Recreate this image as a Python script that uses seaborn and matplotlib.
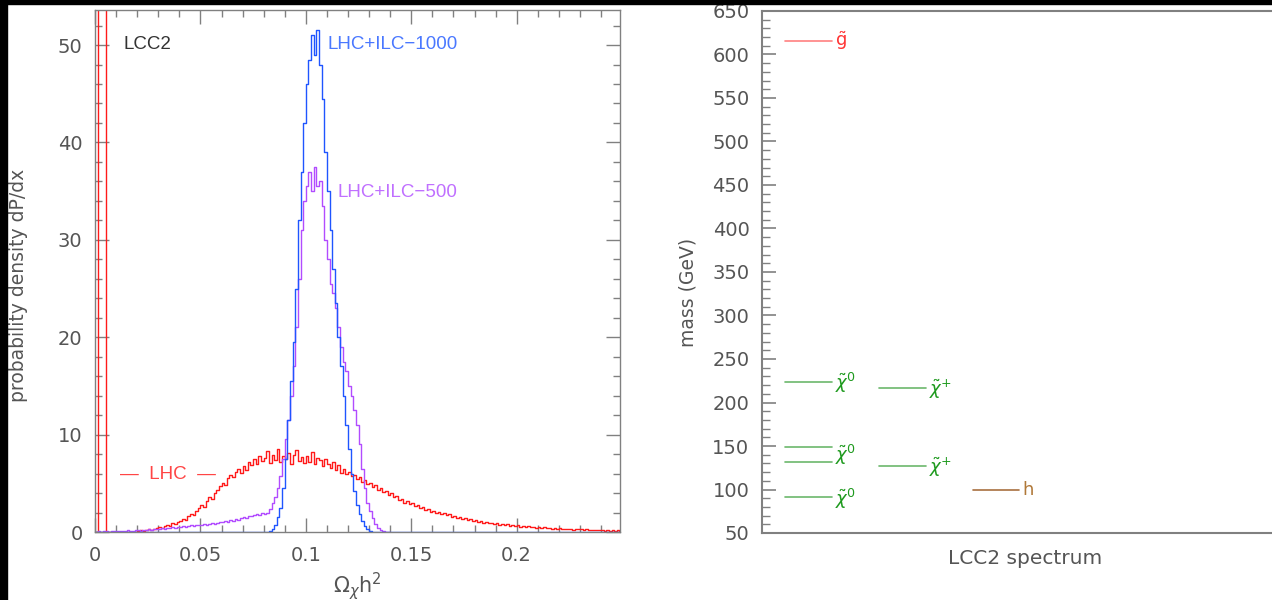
import numpy as np
import pandas as pd
import matplotlib
matplotlib.use("Agg")
import matplotlib.pyplot as plt
import seaborn as sns
from matplotlib.patches import Rectangle
from matplotlib.ticker import MultipleLocator

# ---------------- data: left panel (histograms, bin width 0.00125) ----------------
BIN = 0.00125

lhc_start = 0.0
lhc_vals = [
    0, 400, 400, 400, 0, 0, 0, 0,
    0, 0, 0, 0, 0.05, 0, 0.05, 0.05,
    0.1, 0.2, 0.1, 0.2, 0.3, 0.2, 0.3, 0.4,
    0.5, 0.4, 0.6, 0.7, 0.6, 0.9, 0.8, 1.0,
    1.1, 1.3, 1.2, 1.6, 1.8, 1.7, 2.2, 2.5,
    2.8, 2.6, 3.2, 3.6, 3.4, 4.0, 4.3, 4.7,
    5.0, 4.8, 5.5, 5.9, 5.6, 6.2, 6.5, 6.1,
    6.8, 6.4, 7.2, 6.9, 7.5, 7.0, 7.8, 7.3,
    7.6, 8.3, 7.1, 7.9, 7.4, 8.5, 7.2, 7.8,
    7.5, 8.1, 7.0, 7.9, 8.4, 7.3, 7.7, 7.1,
    7.8, 7.2, 8.2, 7.0, 7.6, 7.4, 6.8, 7.5,
    7.0, 6.6, 7.2, 6.4, 6.9, 6.1, 6.5, 6.0,
    6.2, 5.7, 5.9, 5.4, 5.6, 5.1, 5.3, 4.9,
    5.0, 4.6, 4.8, 4.3, 4.5, 4.1, 4.2, 3.8,
    4.0, 3.6, 3.7, 3.3, 3.4, 3.0, 3.2, 2.9,
    3.0, 2.7, 2.8, 2.5, 2.6, 2.3, 2.4, 2.1,
    2.2, 2.0, 2.1, 1.8, 1.9, 1.7, 1.8, 1.5,
    1.6, 1.4, 1.5, 1.3, 1.4, 1.2, 1.3, 1.1,
    1.2, 1.0, 1.1, 0.9, 1.0, 0.9, 0.95, 0.8,
    0.9, 0.75, 0.8, 0.7, 0.8, 0.65, 0.7, 0.6,
    0.7, 0.55, 0.6, 0.5, 0.6, 0.5, 0.55, 0.45,
    0.5, 0.4, 0.5, 0.4, 0.45, 0.35, 0.4, 0.35,
    0.4, 0.3, 0.35, 0.3, 0.35, 0.25, 0.3, 0.3,
    0.3, 0.25, 0.3, 0.2, 0.25, 0.2, 0.25, 0.2,
    0.25, 0.15, 0.2, 0.15, 0.2, 0.15, 0.2, 0.15,
]

ilc500_start = 0.0
ilc500_vals = [
    0.05, 0.1, 0.05, 0.1, 0.1, 0.05, 0.1, 0.1,
    0.1, 0.15, 0.1, 0.15, 0.2, 0.1, 0.15, 0.2,
    0.2, 0.15, 0.25, 0.2, 0.3, 0.25, 0.3, 0.35,
    0.3, 0.4, 0.35, 0.45, 0.4, 0.5, 0.45, 0.55,
    0.5, 0.6, 0.55, 0.6, 0.7, 0.6, 0.7, 0.75,
    0.7, 0.8, 0.75, 0.85, 0.9, 0.8, 0.95, 1.0,
    1.0, 1.1, 1.0, 1.2, 1.15, 1.3, 1.25, 1.4,
    1.5, 1.4, 1.6, 1.6, 1.7, 1.8, 1.7, 1.9,
    1.8, 2.0, 2.4, 3.0, 3.6, 4.5, 5.8, 7.5,
    9.5, 11.5, 14.0, 17.0, 21.0, 26.0, 31.0, 34.0,
    35.5, 37.0, 35.0, 37.5, 35.5, 36.0, 33.5, 30.0,
    28.0, 25.5, 24.5, 23.0, 21.0, 19.0, 17.5, 16.5,
    15.0, 14.0, 12.5, 11.0, 9.0, 6.5, 4.5, 3.0,
    2.2, 1.4, 0.8, 0.4, 0.2, 0.1, 0.05, 0.0,
]

ilc1000_start = 0.08
ilc1000_vals = [
    0, 0, 0.1, 0.3, 0.7, 1.5, 2.5, 4.5,
    7.5, 11.5, 15.5, 19.5, 25.0, 32.0, 37.0, 42.0,
    46.0, 48.5, 51.0, 49.0, 51.5, 48.0, 44.5, 39.0,
    35.0, 31.0, 27.0, 23.5, 20.0, 17.0, 14.0, 11.0,
    8.5, 6.0, 4.2, 2.8, 1.8, 1.1, 0.6, 0.3,
    0.15, 0.05, 0, 0, 0, 0, 0, 0,
]

X_MAX = 0.249
Y_MAX = 53.6

# ---------------- data: right panel (mass spectrum, GeV) ----------------
level_mass = [616, 224, 149, 132, 91, 217, 127, 99]
level_col = [0, 0, 0, 0, 0, 1, 1, 2]
level_kind = ["gluino", "neutralino", "neutralino", "neutralino", "neutralino",
              "chargino", "chargino", "higgs"]

label_text = [r"$\tilde{\mathrm{g}}$", r"$\tilde{\chi}^0$", r"$\tilde{\chi}^0$", r"$\tilde{\chi}^0$",
              r"$\tilde{\chi}^{+}$", r"$\tilde{\chi}^{+}$", "h"]
label_col = [0, 0, 0, 0, 1, 1, 2]
label_mass = [616, 222, 140, 89, 215, 126, 99]
label_kind = ["gluino", "neutralino", "neutralino", "neutralino", "chargino", "chargino", "higgs"]

line_colors = {"gluino": "#ff8080", "neutralino": "#6cb86c", "chargino": "#6cb86c", "higgs": "#a87040"}
text_colors = {"gluino": "#ff3535", "neutralino": "#1f9a1f", "chargino": "#1f9a1f", "higgs": "#b07838"}

# ---------------- style ----------------
sns.set_style("white")
plt.rcParams["font.family"] = ["DejaVu Sans"]
plt.rcParams["mathtext.fontset"] = "dejavusans"
ANNOT_FONT = ["Liberation Sans", "DejaVu Sans"]

GRAY = "#555555"
SPINE = "#808080"

fig = plt.figure(figsize=(12.72, 6.0), dpi=100)
fig.patch.set_facecolor("white")

ax1 = fig.add_axes([95 / 1272, 1 - 532 / 600, 525 / 1272, 522 / 600])
ax2 = fig.add_axes([762 / 1272, 1 - 533 / 600, 510 / 1272, 522 / 600])


def draw_hist(ax, start, vals, color, lw, full=False):
    vals = np.asarray(vals, dtype=float)
    if full:
        n_total = int(round(0.25 / BIN))
        i0 = int(round(start / BIN))
        padded = np.zeros(n_total)
        padded[i0:i0 + len(vals)] = vals
        vals = padded
        start = 0.0
    edges = start + BIN * np.arange(len(vals) + 1)
    centers = 0.5 * (edges[:-1] + edges[1:])
    df = pd.DataFrame({"x": centers, "w": vals})
    sns.histplot(data=df, x="x", weights="w", bins=edges.tolist(), element="step",
                 fill=False, color=color, linewidth=lw, ax=ax)


draw_hist(ax1, lhc_start, lhc_vals, "#ff1a1a", 1.0)
draw_hist(ax1, ilc500_start, ilc500_vals, "#b24cff", 1.0)
draw_hist(ax1, ilc1000_start, ilc1000_vals, "#1f55ff", 1.0, full=True)

ax1.set_xlim(0, X_MAX)
ax1.set_ylim(0, Y_MAX)
ax1.xaxis.set_major_locator(MultipleLocator(0.05))
ax1.xaxis.set_minor_locator(MultipleLocator(0.01))
ax1.yaxis.set_major_locator(MultipleLocator(10))
ax1.yaxis.set_minor_locator(MultipleLocator(2))
ax1.set_xticks([0, 0.05, 0.1, 0.15, 0.2])
ax1.set_xticklabels(["0", "0.05", "0.1", "0.15", "0.2"])
ax1.tick_params(which="both", direction="in", top=True, right=True, bottom=True, left=True,
                color=SPINE, labelcolor=GRAY, labelsize=14)
ax1.tick_params(which="major", length=10, width=1.0)
ax1.tick_params(which="minor", length=5, width=1.0)
ax1.tick_params(axis="x", which="major", pad=10)
ax1.tick_params(axis="y", which="major", pad=9)
for s in ax1.spines.values():
    s.set_color(SPINE)
    s.set_linewidth(1.0)
ax1.set_xlabel(r"$\Omega_{\chi}\mathrm{h}^{2}$", fontsize=15, color=GRAY)
ax1.xaxis.set_label_coords(0.5, -0.073)
ax1.set_ylabel("probability density dP/dx", fontsize=13.5, color=GRAY)
ax1.yaxis.set_label_coords(-0.127, 0.473)

ax1.text(0.0133, 50.05, "LCC2", fontsize=13.5, color="#333333", va="center", ha="left",
         family=ANNOT_FONT)
ax1.text(0.1104, 50.05, "LHC+ILC\u22121000", fontsize=13.5, color="#4a78ff", va="center",
         ha="left", family=ANNOT_FONT)
ax1.text(0.1152, 34.9, "LHC+ILC\u2212500", fontsize=13.5, color="#c070ff", va="center",
         ha="left", family=ANNOT_FONT)
ax1.text(0.0118, 5.9, "\u2014  LHC  \u2014", fontsize=13.5, color="#ff4545", va="center",
         ha="left", family=ANNOT_FONT)

# ---------------- right panel ----------------
HALF = 0.25
rows = []
for i, (m, c, k) in enumerate(zip(level_mass, level_col, level_kind)):
    rows.append({"x": c - HALF, "mass": m, "id": i, "kind": k})
    rows.append({"x": c + HALF, "mass": m, "id": i, "kind": k})
df_levels = pd.DataFrame(rows)
sns.lineplot(data=df_levels, x="x", y="mass", units="id", estimator=None, hue="kind",
             palette=line_colors, linewidth=1.2, legend=False, sort=True, ax=ax2)

for t, c, m, k in zip(label_text, label_col, label_mass, label_kind):
    ax2.text(c + HALF + 0.03, m, t, fontsize=13, color=text_colors[k], va="center", ha="left")

ax2.set_xlim(-0.5, 4.95)
ax2.set_ylim(50, 650)
ax2.set_xticks([])
ax2.yaxis.set_major_locator(MultipleLocator(50))
ax2.yaxis.set_minor_locator(MultipleLocator(10))
ax2.tick_params(axis="y", which="both", direction="in", left=True, right=False,
                color=SPINE, labelcolor=GRAY, labelsize=14, pad=9)
ax2.tick_params(axis="y", which="major", length=10, width=1.2)
ax2.tick_params(axis="y", which="minor", length=6, width=1.0)
for name, s in ax2.spines.items():
    s.set_color(SPINE)
    s.set_linewidth(1.5)
ax2.spines["right"].set_visible(False)
ax2.set_xlabel("LCC2 spectrum", fontsize=14.5, color=GRAY)
ax2.xaxis.set_label_coords(0.515, -0.031)
ax2.set_ylabel("mass (GeV)", fontsize=13.5, color=GRAY)
ax2.yaxis.set_label_coords(-0.127, 0.46)

# black border strips seen in the reference image
fig.add_artist(Rectangle((0, 1 - 4 / 600), 1, 4 / 600, transform=fig.transFigure,
                         color="black", zorder=10))
fig.add_artist(Rectangle((0, 0), 7 / 1272, 1, transform=fig.transFigure,
                         color="black", zorder=10))

fig.savefig("out.png", dpi=100, facecolor="white")
